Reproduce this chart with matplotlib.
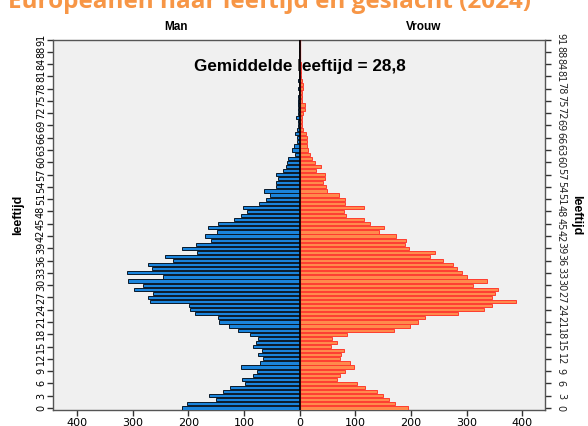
import matplotlib
matplotlib.use("Agg")
import matplotlib.pyplot as plt
import numpy as np

# Data: index positions 0..90 (categorical ages)
men = [211, 202, 151, 162, 137, 125, 98, 103, 83, 77,
       106, 71, 66, 75, 68, 83, 79, 74, 89, 111,
       126, 145, 147, 188, 196, 198, 269, 273, 263, 297,
       281, 308, 246, 310, 265, 272, 228, 242, 184, 212,
       186, 160, 170, 149, 165, 147, 118, 105, 95, 101,
       73, 61, 54, 63, 42, 42, 38, 42, 29, 24,
       22, 21, 9, 13, 10, 5, 5, 8, 4, 2,
       2, 6, 2, 3, 2, 3, 2, 1, 2, 1,
       2, 1, 1, 1, 1, 1, 0.5, 0.5, 0.5, 0.5, 0.5]
women = [195, 171, 161, 150, 140, 117, 104, 68, 73, 82,
         97, 91, 72, 74, 79, 57, 68, 58, 86, 169,
         198, 213, 225, 284, 332, 346, 388, 346, 351, 356,
         312, 337, 300, 291, 283, 276, 257, 235, 243, 196,
         189, 191, 174, 142, 152, 127, 115, 84, 79, 115,
         82, 82, 71, 50, 47, 42, 46, 46, 30, 39,
         27, 22, 19, 15, 14, 13, 13, 11, 7, 5,
         5, 4, 6, 10, 10, 5, 4, 5, 7, 6,
         4, 3, 2, 2, 2, 1, 1, 1, 1, 0.5, 0.5]
age_labels = ["0", "3", "6", "9", "12", "15", "18", "21", "24", "27", "30",
              "33", "36", "39", "42", "45", "48", "51", "54", "57", "60",
              "63", "66", "69", "72", "75", "78", "81", "84", "88", "91"]
x_ticks = [-400, -300, -200, -100, 0, 100, 200, 300, 400]
x_labels = ["400", "300", "200", "100", "0", "100", "200", "300", "400"]
title = "Europeanen naar leeftijd en geslacht (2024)"
mean_text = "Gemiddelde leeftijd = 28,8"

fig = plt.figure(figsize=(5.88, 4.26), dpi=100)
ax = fig.add_axes([53/588, 1 - 410/426, (545-53)/588, (410-39.5)/426])
ax.set_facecolor("#f0f0f0")

y = np.arange(len(men))
ax.barh(y, -np.array(men), height=0.78, color="#1a84dc", edgecolor="#0a1a2a",
        linewidth=0.7, zorder=3)
ax.barh(y, np.array(women), height=0.78, color="#ff8a4c", edgecolor="#ff3b2f",
        linewidth=0.7, zorder=3)
ax.axvline(1.5, color="#ff2020", lw=0.9, zorder=4)
ax.axvline(0, color="black", lw=1.2, zorder=5)

ax.set_xlim(-443, 441)
ax.set_ylim(-0.5, 90)
ax.set_xticks(x_ticks)
ax.set_xticklabels(x_labels, fontsize=8)
ticks_y = np.arange(0, 91, 3)
ax.set_yticks(ticks_y)
ax.set_yticklabels(age_labels, fontsize=7, rotation=90, va="center")
ax.tick_params(axis="y", which="both", left=True, right=True, labelright=False,
               length=4, width=1, pad=1, color="#333333")
ax.tick_params(axis="x", length=4, width=1, pad=2, color="#333333")
for s in ax.spines.values():
    s.set_color("#555555")
    s.set_linewidth(1.0)

# right-side labels
for t, lab in zip(ticks_y, age_labels):
    ax.text(1.022, t, lab, transform=ax.get_yaxis_transform(), rotation=270,
            fontsize=7, va="center", ha="left", color="#222222")

ax.text(0, 83.3, mean_text, ha="center", va="center", fontsize=12.3,
        fontweight="bold", zorder=2, family="Liberation Sans")

fig.text(176/588, 1 - 27/426, "Man", ha="center", va="center", fontsize=8.5,
         fontweight="bold", family="Liberation Sans")
fig.text(424/588, 1 - 27/426, "Vrouw", ha="center", va="center", fontsize=8.5,
         fontweight="bold", family="Liberation Sans")
fig.text(18/588, 1 - 215/426, "leeftijd", rotation=90, ha="center", va="center",
         fontsize=9, fontweight="bold", family="Liberation Sans")
fig.text(576/588, 1 - 215/426, "leeftijd", rotation=270, ha="center", va="center",
         fontsize=9, fontweight="bold", family="Liberation Sans")

fig.text(270/588, 1 - 8.5/426, title, ha="center", va="baseline", fontsize=17.5,
         fontweight="bold", color="#f79646", family="Open Sans")

fig.savefig("out.png", dpi=100)
